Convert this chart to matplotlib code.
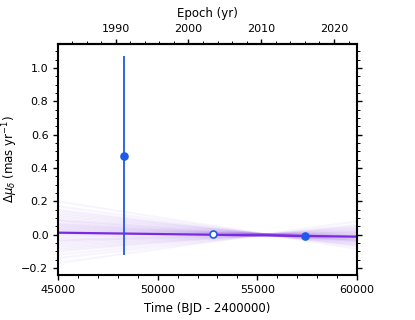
import matplotlib
matplotlib.use("Agg")
import matplotlib.pyplot as plt
from matplotlib.ticker import MultipleLocator, FixedLocator
import numpy as np

# Data
t_obs = [48300, 52800, 57389]
dmu_obs = [0.475, 0.003, -0.005]
dmu_err = [0.595, 0.004, 0.004]
filled = [True, False, True]

t_model = [45000, 60000]
dmu_best = [0.012, -0.012]

epoch_ticks = [1990, 2000, 2010, 2020]

# faint posterior draws: values at t=45000 and t=60000
draw_left = [0.20, 0.17, 0.15, 0.14, 0.13, 0.12, 0.11, 0.10, 0.09, 0.085, 0.08, 0.07,
             0.065, 0.06, 0.05, 0.045, 0.04, 0.035, 0.03, 0.025, 0.02, 0.015, 0.01,
             0.0, -0.01, -0.02, -0.03, -0.04, -0.05, -0.06, -0.07, -0.08, -0.09,
             -0.10, -0.12, -0.14, -0.17, 0.055, -0.035, 0.005]
draw_right = [-0.085, -0.07, -0.065, -0.06, -0.055, -0.05, -0.045, -0.04, -0.04, -0.035,
              -0.035, -0.03, -0.03, -0.025, -0.02, -0.02, -0.018, -0.015, -0.012, -0.01,
              -0.008, -0.006, -0.004, 0.0, 0.005, 0.008, 0.012, 0.016, 0.02, 0.025, 0.03,
              0.034, 0.04, 0.045, 0.052, 0.06, 0.08, -0.028, 0.014, -0.002]

plt.rcParams['font.family'] = ['DejaVu Sans']
fig = plt.figure(figsize=(4.15, 3.2), dpi=100)
ax = fig.add_axes([0.14, 0.1406, 0.72, 0.7219])

purple = '#7a2be0'
blue = '#1f5be8'

for yl, yr in zip(draw_left, draw_right):
    ax.plot(t_model, [yl, yr], color=purple, alpha=0.05, lw=1.5, zorder=1)
ax.plot(t_model, dmu_best, color=purple, lw=1.6, zorder=2)

for t, y, e, f in zip(t_obs, dmu_obs, dmu_err, filled):
    ax.errorbar(t, y, yerr=e, fmt='o', ms=5, color=blue, ecolor=blue, elinewidth=1.3,
                mfc=blue if f else 'white', mec=blue, mew=1.2, capsize=0, zorder=3)

ax.set_xlim(45000, 60000)
ax.set_ylim(-0.242, 1.144)
ax.xaxis.set_major_locator(MultipleLocator(5000))
ax.xaxis.set_minor_locator(MultipleLocator(1000))
ax.yaxis.set_major_locator(MultipleLocator(0.2))
ax.yaxis.set_minor_locator(MultipleLocator(0.05))
ax.tick_params(which='both', right=True, labelsize=8)
ax.tick_params(which='major', length=3.5, width=1)
ax.tick_params(which='minor', length=2, width=0.7)
for s in ax.spines.values():
    s.set_linewidth(1.5)

ax.set_xlabel('Time (BJD - 2400000)', fontsize=8.5, labelpad=5)
ax.set_ylabel(r'$\Delta\mu_\delta$ (mas yr$^{-1}$)', fontsize=8.5, labelpad=1)

def bjd2yr(x):
    return 2000.0 + (np.asarray(x) + 2400000.0 - 2451545.0) / 365.25

def yr2bjd(y):
    return (np.asarray(y) - 2000.0) * 365.25 + 2451545.0 - 2400000.0

sec = ax.secondary_xaxis('top', functions=(bjd2yr, yr2bjd))
sec.xaxis.set_major_locator(FixedLocator(epoch_ticks))
sec.xaxis.set_minor_locator(FixedLocator(list(range(1984, 2023, 2))))
sec.tick_params(which='both', labelsize=8)
sec.tick_params(which='major', length=3.5, width=1)
sec.tick_params(which='minor', length=2, width=0.7)
sec.set_xlabel('Epoch (yr)', fontsize=8.5, labelpad=5)
sec.spines['top'].set_linewidth(1.5)

fig.savefig('out.png', dpi=100)
